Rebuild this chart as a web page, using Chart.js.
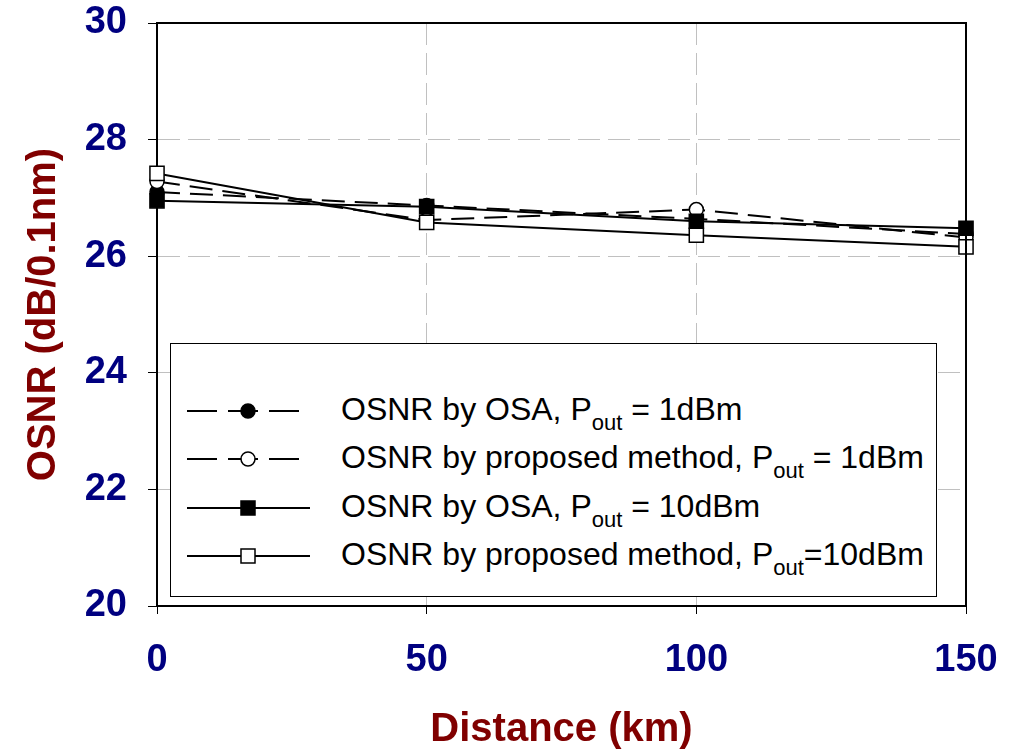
<!DOCTYPE html>
<html>
<head>
<meta charset="utf-8">
<script src="https://cdn.jsdelivr.net/npm/chart.js@4.4.0/dist/chart.umd.min.js"></script>
<style>
  body { margin: 0; background: #fff; }
  #wrap { position: relative; width: 1016px; height: 749px; }
  #legend {
    position: absolute; left: 170px; top: 343px; width: 765px; height: 252px;
    border: 1.5px solid #000; background: #fff;
    font-family: Arial, "Liberation Sans", sans-serif; font-size: 32px; color: #000;
  }
  .row { position: absolute; left: 0; height: 40px; width: 100%; }
  .row svg { position: absolute; left: 12px; top: 0; }
  .row span.txt { position: absolute; left: 170px; top: 1px; line-height: 34px; white-space: nowrap; }
  sub { font-size: 22px; vertical-align: -10px; line-height: 0; }
</style>
</head>
<body>
<div id="wrap">
  <canvas id="grab" width="1016" height="749"></canvas>
  <div id="legend"></div>
</div>
<script>
const distance = [0, 50, 100, 150];
const osa1 = [27.10, 26.87, 26.64, 26.38];
const prop1 = [27.28, 26.62, 26.80, 26.32];
const osa10 = [26.95, 26.85, 26.60, 26.48];
const prop10 = [27.42, 26.58, 26.36, 26.16];
const yTicks = [20, 22, 24, 26, 28, 30];

const legendNames = [
  'OSNR by OSA, P<sub>out</sub> = 1dBm',
  'OSNR by proposed method, P<sub>out</sub> = 1dBm',
  'OSNR by OSA, P<sub>out</sub> = 10dBm',
  'OSNR by proposed method, P<sub>out</sub>=10dBm'
];

const pts = (arr) => arr.map((v, i) => ({ x: distance[i], y: v }));

const font = 'Arial, "Liberation Sans", sans-serif';

// top and right border of the plot
const frame = {
  id: 'frame',
  afterDraw(chart) {
    const { ctx, chartArea: a } = chart;
    ctx.save();
    ctx.strokeStyle = '#000';
    ctx.lineWidth = 2;
    ctx.beginPath();
    ctx.moveTo(a.left, a.top);
    ctx.lineTo(a.right, a.top);
    ctx.lineTo(a.right, a.bottom);
    ctx.stroke();
    ctx.restore();
  }
};

const mk = (data, style, fill, dashed, order) => ({
  data: pts(data),
  borderColor: '#000',
  borderWidth: 2,
  borderDash: dashed ? [23, 10] : [],
  pointStyle: style,
  pointRadius: style === 'rect' ? 10 : 7,
  pointBackgroundColor: fill,
  pointBorderColor: '#000',
  pointBorderWidth: 1.5,
  tension: 0,
  clip: false,
  order: order
});

new Chart(document.querySelector('#grab'), {
  type: 'line',
  data: {
    datasets: [
      mk(osa1, 'circle', '#000', true, 3),
      mk(prop1, 'circle', '#fff', true, 2),
      mk(osa10, 'rect', '#000', false, 1),
      mk(prop10, 'rect', '#fff', false, 0)
    ]
  },
  options: {
    responsive: false,
    animation: false,
    layout: { padding: { left: 0, right: 50, top: 23, bottom: 0 } },
    plugins: { legend: { display: false }, tooltip: { enabled: false } },
    scales: {
      x: {
        type: 'linear', min: 0, max: 150,
        afterFit: (s) => { s.height = 143; s.paddingLeft = 0; s.paddingRight = 0; },
        ticks: { stepSize: 50, color: '#000080', padding: 24, font: { family: font, size: 38, weight: 'bold' } },
        grid: { color: '#c0c0c0', tickColor: '#000', tickLength: 8, lineWidth: 1 },
        border: { color: '#000', width: 2, dash: [22, 8] },
        title: { display: true, text: 'Distance (km)', color: '#800000', padding: { top: 0, bottom: -5 },
                 font: { family: font, size: 40, weight: 'bold' } }
      },
      y: {
        min: 20, max: 30,
        afterFit: (s) => { s.width = 157; s.paddingTop = 0; s.paddingBottom = 0; },
        afterBuildTicks: (s) => { s.ticks = yTicks.map(v => ({ value: v })); },
        ticks: { color: '#000080', padding: 21, font: { family: font, size: 38, weight: 'bold' } },
        grid: { color: '#c0c0c0', tickColor: '#000', tickLength: 9, lineWidth: 1 },
        border: { color: '#000', width: 2, dash: [22, 8] },
        title: { display: true, text: 'OSNR (dB/0.1nm)', color: '#800000', padding: { top: 20, bottom: 0 },
                 font: { family: font, size: 40, weight: 'bold' } }
      }
    }
  },
  plugins: [frame]
});

// legend with subscripts
const rowTops = [47, 95, 144, 192];
const lg = document.querySelector('#legend');
legendNames.forEach((name, i) => {
  const dashed = i < 2;
  const filled = i % 2 === 0;
  const circle = i < 2;
  const cy = 20;
  const line = dashed
    ? `<line x1="4" y1="${cy}" x2="116" y2="${cy}" stroke="#000" stroke-width="2" stroke-dasharray="30 11"/>`
    : `<line x1="4" y1="${cy}" x2="127" y2="${cy}" stroke="#000" stroke-width="2"/>`;
  const marker = circle
    ? `<circle cx="65" cy="${cy}" r="7" fill="${filled ? '#000' : '#fff'}" stroke="#000" stroke-width="1.5"/>`
    : `<rect x="58" y="${cy - 7}" width="14" height="14" fill="${filled ? '#000' : '#fff'}" stroke="#000" stroke-width="1.5"/>`;
  const row = document.createElement('div');
  row.className = 'row';
  row.style.top = rowTops[i] + 'px';
  row.innerHTML = `<svg width="140" height="40">${line}${marker}</svg><span class="txt">${name}</span>`;
  lg.appendChild(row);
});
</script>
</body>
</html>
